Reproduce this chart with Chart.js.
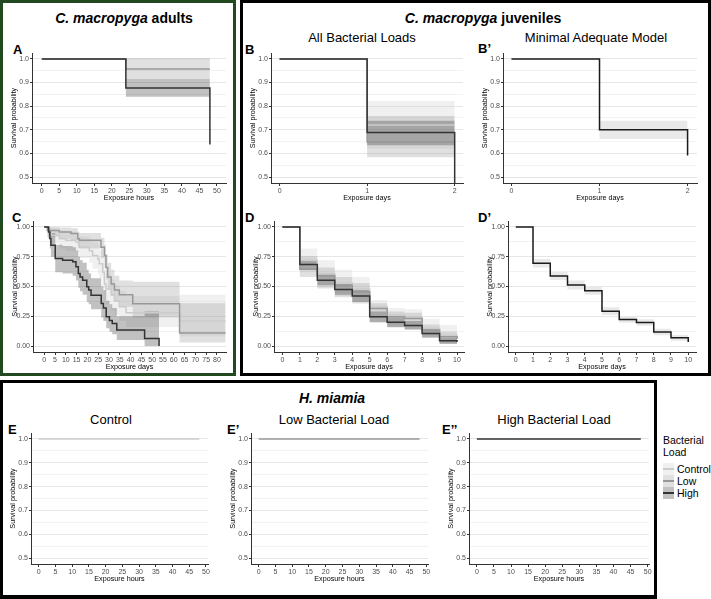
<!DOCTYPE html>
<html>
<head>
<meta charset="utf-8">
<script src="https://cdn.jsdelivr.net/npm/chart.js@4.4.1/dist/chart.umd.min.js"></script>
<style>
  body { margin: 0; width: 711px; height: 599px; position: relative; background: #fff; overflow: hidden;
         font-family: "Liberation Sans", Arial, sans-serif; color: #000; }
  .box { position: absolute; box-sizing: border-box; }
  .t { position: absolute; white-space: nowrap; line-height: 1; }
  .c { text-align: center; }
  .big { font-size: 14px; font-weight: bold; }
  .sub { font-size: 13px; }
  .lab { font-size: 13px; font-weight: bold; }
  canvas { position: absolute; }
  .key { position: absolute; width: 11px; height: 12px; }
  .key span { position: absolute; left: 0; right: 0; top: 5px; height: 2px; }
</style>
</head>
<body>

<div class="box" style="left:0;top:0;width:236px;height:376px;border:3px solid #22491f"></div>
<div class="box" style="left:240px;top:0;width:471px;height:376px;border:3px solid #000"></div>
<div class="box" style="left:0;top:380px;width:657px;height:219px;border:3px solid #000;border-bottom-width:4px"></div>

<div class="t c big" style="left:0;width:248px;top:11px"><i>C. macropyga</i> adults</div>
<div class="t c big" style="left:383px;width:200px;top:11px"><i>C. macropyga</i> juveniles</div>
<div class="t c sub" style="left:262px;width:200px;top:31px">All Bacterial Loads</div>
<div class="t c sub" style="left:496px;width:200px;top:31px">Minimal Adequate Model</div>
<div class="t c big" style="left:232px;width:200px;top:391px"><i>H. miamia</i></div>
<div class="t c sub" style="left:61px;width:100px;top:413px">Control</div>
<div class="t c sub" style="left:234px;width:200px;top:413px">Low Bacterial Load</div>
<div class="t c sub" style="left:454px;width:200px;top:413px">High Bacterial Load</div>

<div class="t lab" style="left:13px;top:43px">A</div>
<div class="t lab" style="left:245px;top:43px">B</div>
<div class="t lab" style="left:478px;top:42px">B’</div>
<div class="t lab" style="left:12px;top:211px">C</div>
<div class="t lab" style="left:245px;top:211px">D</div>
<div class="t lab" style="left:478px;top:211px">D’</div>
<div class="t lab" style="left:8px;top:423px">E</div>
<div class="t lab" style="left:227px;top:423px">E’</div>
<div class="t lab" style="left:442px;top:423px">E’’</div>

<div class="t" style="left:663px;top:434px;font-size:10.5px;line-height:12px">Bacterial<br>Load</div>
<div id="legend"></div>

<script>
// bacterial load groups
const groups = ['Control', 'Low', 'High'];

// A: adults, exposure hours
const aHours = [0, 24, 48];
const aCtrlSurv = [1, 1, 1];
const aLowSurv = [1, 0.957, 0.957];
const aLowUpper = [1, 0.995, 0.995];
const aLowLower = [1, 0.915, 0.915];
const aHighSurv = [1, 0.877, 0.638];
const aHighUpper = [1, 0.915, 0.915];
const aHighLower = [1, 0.84, 0.84];

// B: juveniles, all loads, exposure days
const bDays = [0, 1, 2];
const bCtrlSurv = [1, 0.72, 0.72];
const bCtrlUpper = [1, 0.822, 0.822];
const bCtrlLower = [1, 0.62, 0.62];
const bLowSurv = [1, 0.648, 0.648];
const bLowUpper = [1, 0.758, 0.758];
const bLowLower = [1, 0.584, 0.584];
const bHighSurv = [1, 0.689, 0.47];
const bHighUpper = [1, 0.738, 0.738];
const bHighLower = [1, 0.635, 0.635];

// B': minimal adequate model
const bmDays = [0, 1, 2];
const bmSurv = [1, 0.70, 0.591];
const bmUpper = [1, 0.738, 0.738];
const bmLower = [1, 0.661, 0.661];

// C: adults, exposure days
const cCtrlDays = [0, 1.5, 3.1, 7, 10, 14.7, 16.3, 20.9, 22.4, 24.8, 25.5, 27.1, 27.9, 28.6, 31, 32.5, 34.8, 37.9, 62.7, 84];
const cCtrlSurv = [1, .97, .93, .90, .888, .874, .83, .80, .76, .73, .69, .62, .52, .48, .43, .38, .33, .28, .21, .21];
const cCtrlUpper = [1, 1, .99, .97, .96, .95, .92, .90, .87, .85, .81, .75, .65, .61, .56, .51, .46, .42, .43, .43];
const cCtrlLower = [1, .91, .86, .82, .80, .79, .74, .70, .65, .61, .57, .49, .39, .35, .30, .26, .21, .16, .08, .08];
const cLowDays = [0, 1.5, 7, 12.4, 15.5, 16.3, 26.3, 27.9, 28.6, 29.4, 31, 32.5, 34.8, 41, 62.7, 84];
const cLowSurv = [1, .97, .957, .944, .90, .888, .83, .76, .66, .58, .52, .47, .43, .356, .11, .11];
const cLowUpper = [1, 1, .995, .99, .96, .95, .91, .85, .77, .70, .64, .59, .55, .54, .36, .36];
const cLowLower = [1, .92, .90, .89, .83, .82, .74, .66, .56, .48, .42, .37, .33, .24, .03, .03];
const cHighDays = [0, 2.0, 2.6, 3.1, 5.1, 8.5, 13.2, 14.7, 15.8, 16.6, 17.8, 19.7, 20.6, 21.7, 26.4, 27.4, 28.7, 30.2, 31.5, 33.6, 46.5, 53.2];
const cHighSurv = [1, .958, .903, .846, .735, .72, .707, .665, .61, .58, .553, .497, .47, .427, .357, .32, .246, .215, .19, .134, .064, 0];
const cHighUpper = [1, 1, .98, .95, .85, .84, .83, .80, .75, .72, .70, .64, .61, .57, .50, .47, .38, .35, .32, .25, .29, .29];
const cHighLower = [1, .90, .82, .75, .62, .61, .59, .55, .49, .46, .43, .37, .35, .31, .24, .21, .15, .12, .10, .05, 0, 0];

// D: juveniles, exposure days
const dDays = [0, 1, 2, 3, 4, 5, 6, 7, 8, 9, 10];
const dCtrlSurv = [1, .72, .61, .53, .48, .33, .26, .24, .15, .09, .07];
const dCtrlUpper = [1, .82, .72, .64, .58, .385, .32, .31, .23, .176, .176];
const dCtrlLower = [1, .62, .50, .42, .37, .24, .18, .16, .09, .03, .03];
const dLowSurv = [1, .645, .59, .51, .455, .316, .246, .232, .134, .078, .06];
const dLowUpper = [1, .755, .66, .58, .53, .36, .29, .28, .18, .12, .12];
const dLowLower = [1, .58, .483, .41, .357, .20, .156, .134, .073, .017, .017];
const dHighSurv = [1, .684, .553, .475, .42, .246, .20, .173, .106, .045, .035];
const dHighUpper = [1, .72, .60, .52, .47, .29, .24, .21, .14, .07, .07];
const dHighLower = [1, .64, .51, .43, .37, .20, .16, .14, .07, .02, .02];

// D': minimal adequate model
const dmDays = [0, 1, 2, 3, 4, 5, 6, 7, 8, 9, 10];
const dmSurv = [1, .696, .589, .513, .465, .293, .223, .197, .118, .07, .034];
const dmUpper = [1, .73, .625, .55, .50, .325, .25, .225, .145, .095, .095];
const dmLower = [1, .66, .555, .475, .43, .26, .195, .17, .09, .045, .045];

// E: H. miamia, exposure hours
const eHours = [0, 48];
const eCtrlSurv = [1, 1];
const eLowSurv = [1, 1];
const eHighSurv = [1, 1];

// tick labels
const hourTicks = [0, 5, 10, 15, 20, 25, 30, 35, 40, 45, 50];
const twoDayTicks = [0, 1, 2];
const cDayTicks = [0, 5, 10, 15, 20, 25, 30, 35, 40, 45, 50, 55, 60, 65, 70, 75, 80];
const tenDayTicks = [0, 1, 2, 3, 4, 5, 6, 7, 8, 9, 10];
const probTicks = [0.5, 0.6, 0.7, 0.8, 0.9, 1.0];
const probMinor = [0.55, 0.65, 0.75, 0.85, 0.95];
const quartTicks = [0, 0.25, 0.5, 0.75, 1.0];
const quartMinor = [0.125, 0.375, 0.625, 0.875];

const lineCol = { Control: '#cccccc', Low: '#989898', High: '#333333' };
const bandCol = { Control: 'rgba(204,204,204,0.3)', Low: 'rgba(152,152,152,0.3)', High: 'rgba(51,51,51,0.3)' };

Chart.defaults.font.family = '"Liberation Sans", Arial, sans-serif';

const pts = (xs, ys) => xs.map((x, i) => ({ x, y: ys[i] }));

function survChart(area, xRange, xTicks, yRange, yMajor, yMinor, digits, xTitle, curves) {
  const YW = 26, XH = 20, PT = 10, PR = 10;
  const w = area[2] - area[0] + YW + PR, h = area[3] - area[1] + PT + XH;
  const cv = document.createElement('canvas');
  cv.width = w; cv.height = h;
  cv.style.left = (area[0] - YW) + 'px';
  cv.style.top = (area[1] - PT) + 'px';
  cv.style.width = w + 'px'; cv.style.height = h + 'px';
  document.body.appendChild(cv);

  const ds = [];
  curves.forEach((c, i) => {
    if (!c.up) return;
    ds.push({ data: pts(c.x, c.up), stepped: 'before', borderWidth: 0, borderColor: 'transparent',
              pointRadius: 0, fill: false, order: 30 - i });
    ds.push({ data: pts(c.x, c.lo), stepped: 'before', borderWidth: 0, borderColor: 'transparent',
              pointRadius: 0, fill: '-1', backgroundColor: c.band, order: 30 - i });
  });
  curves.forEach((c, i) => {
    ds.push({ data: pts(c.x, c.y), stepped: 'before', borderColor: c.line, borderWidth: 1.5,
              pointRadius: 0, fill: false, order: 3 - i });
  });

  return new Chart(cv, {
    type: 'line',
    data: { datasets: ds },
    options: {
      responsive: false, animation: false, devicePixelRatio: 1,
      layout: { padding: { top: PT, right: PR, left: 0, bottom: 0 } },
      plugins: { legend: { display: false }, tooltip: { enabled: false } },
      scales: {
        x: {
          type: 'linear', min: xRange[0], max: xRange[1],
          afterBuildTicks: s => { s.ticks = xTicks.map(v => ({ value: v })); },
          afterFit: s => { s.height = XH; },
          ticks: { autoSkip: false, maxRotation: 0, padding: 1, font: { size: 7 }, color: '#4d4d4d',
                   callback: v => String(v) },
          grid: { drawOnChartArea: false, tickLength: 3, color: '#333', tickColor: '#333' },
          border: { color: '#333', width: 1 },
          title: { display: true, text: xTitle, font: { size: 7.2 }, color: '#000', padding: { top: 0, bottom: 1 } }
        },
        y: {
          type: 'linear', min: yRange[0], max: yRange[1],
          afterBuildTicks: s => {
            s.ticks = yMajor.map(v => ({ value: v }))
              .concat(yMinor.map(v => ({ value: v, minor: true })))
              .sort((a, b) => a.value - b.value);
          },
          afterFit: s => { s.width = YW; },
          ticks: { padding: 1, font: { size: 7 }, color: '#4d4d4d',
                   callback: (v, i, t) => t[i].minor ? '' : v.toFixed(digits) },
          grid: { tickLength: 2,
                  color: c => c.tick && c.tick.minor ? '#f2f2f2' : '#e6e6e6',
                  tickColor: c => c.tick && c.tick.minor ? 'rgba(0,0,0,0)' : '#333' },
          border: { color: '#333', width: 1 },
          title: { display: true, text: 'Survival probability', font: { size: 7.2 }, color: '#000',
                   padding: { top: 4, bottom: 0 } }
        }
      }
    }
  });
}

const grp = (g, x, y, up, lo) => ({ x, y, up, lo, line: lineCol[g], band: bandCol[g] });
const single = (x, y, up, lo) => ({ x, y, up, lo, line: '#1a1a1a', band: '#e9e9e9' });

// A
survChart([32, 53, 226, 183], [-2.8, 52.6], hourTicks, [0.475, 1.025], probTicks, probMinor, 1, 'Exposure hours', [
  grp('Control', aHours, aCtrlSurv),
  grp('Low', aHours, aLowSurv, aLowUpper, aLowLower),
  grp('High', aHours, aHighSurv, aHighUpper, aHighLower)
]);
// B
survChart([271, 53, 463, 183], [-0.098, 2.095], twoDayTicks, [0.475, 1.025], probTicks, probMinor, 1, 'Exposure days', [
  grp('Control', bDays, bCtrlSurv, bCtrlUpper, bCtrlLower),
  grp('Low', bDays, bLowSurv, bLowUpper, bLowLower),
  grp('High', bDays, bHighSurv, bHighUpper, bHighLower)
]);
// B'
survChart([503, 53, 697, 183], [-0.096, 2.107], twoDayTicks, [0.475, 1.025], probTicks, probMinor, 1, 'Exposure days', [
  single(bmDays, bmSurv, bmUpper, bmLower)
]);
// C
survChart([33, 221, 226, 352], [-5.2, 84.2], cDayTicks, [-0.05, 1.05], quartTicks, quartMinor, 2, 'Exposure days', [
  grp('Control', cCtrlDays, cCtrlSurv, cCtrlUpper, cCtrlLower),
  grp('Low', cLowDays, cLowSurv, cLowUpper, cLowLower),
  grp('High', cHighDays, cHighSurv, cHighUpper, cHighLower)
]);
// D
survChart([274, 221, 464, 352], [-0.48, 10.4], tenDayTicks, [-0.05, 1.05], quartTicks, quartMinor, 2, 'Exposure days', [
  grp('Control', dDays, dCtrlSurv, dCtrlUpper, dCtrlLower),
  grp('Low', dDays, dLowSurv, dLowUpper, dLowLower),
  grp('High', dDays, dHighSurv, dHighUpper, dHighLower)
]);
// D'
survChart([508, 221, 696, 352], [-0.45, 10.45], tenDayTicks, [-0.05, 1.05], quartTicks, quartMinor, 2, 'Exposure days', [
  single(dmDays, dmSurv, dmUpper, dmLower)
]);
// E, E', E''
survChart([31, 433, 208, 564], [-2.3, 50.6], hourTicks, [0.475, 1.025], probTicks, probMinor, 1, 'Exposure hours', [
  grp('Control', eHours, eCtrlSurv)
]);
survChart([251, 433, 428, 564], [-2.3, 50.5], hourTicks, [0.475, 1.025], probTicks, probMinor, 1, 'Exposure hours', [
  grp('Low', eHours, eLowSurv)
]);
survChart([469, 433, 649, 564], [-2.3, 50.4], hourTicks, [0.475, 1.025], probTicks, probMinor, 1, 'Exposure hours', [
  grp('High', eHours, eHighSurv)
]);

// legend
const leg = document.getElementById('legend');
groups.forEach((g, i) => {
  const k = document.createElement('div');
  k.className = 'key';
  k.style.left = '663px'; k.style.top = (463 + i * 12) + 'px';
  k.style.background = bandCol[g];
  k.innerHTML = '<span style="background:' + lineCol[g] + '"></span>';
  leg.appendChild(k);
  const t = document.createElement('div');
  t.className = 't';
  t.style.left = '677px'; t.style.top = (464 + i * 12) + 'px'; t.style.fontSize = '10.5px';
  t.textContent = g;
  leg.appendChild(t);
});
</script>
</body>
</html>
